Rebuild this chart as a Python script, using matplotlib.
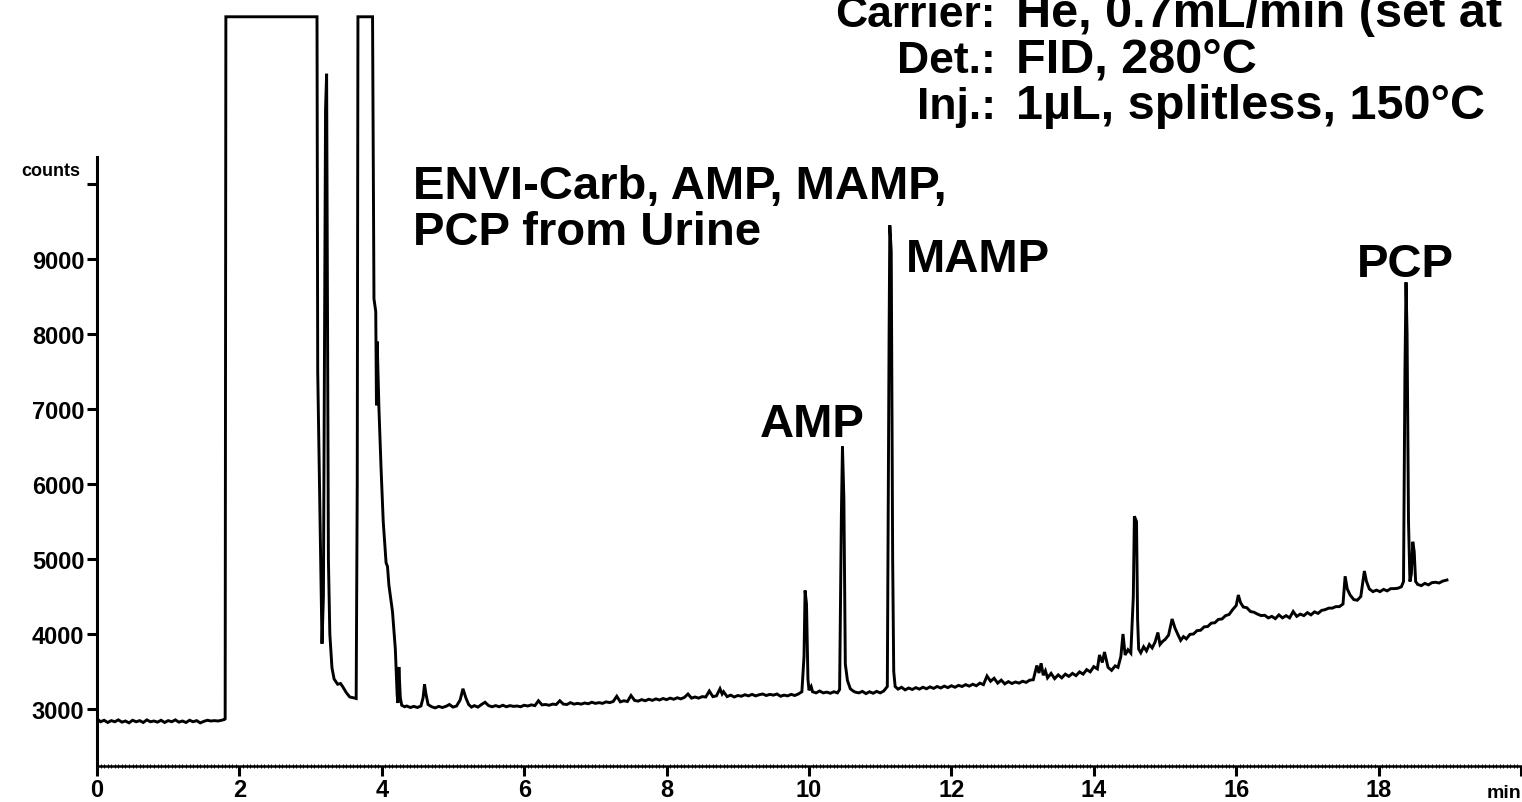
import matplotlib
matplotlib.use("Agg")
import matplotlib.pyplot as plt
from matplotlib.ticker import MultipleLocator
import numpy as np

# ---------------- data ----------------
rt_baseline_start = [0.00, 0.05, 0.10, 0.15, 0.20, 0.25, 0.30, 0.35, 0.40, 0.45,
                     0.50, 0.55, 0.60, 0.65, 0.70, 0.75, 0.80, 0.85, 0.90, 0.95,
                     1.00, 1.05, 1.10, 1.15, 1.20, 1.25, 1.30, 1.35, 1.40, 1.45,
                     1.50, 1.55, 1.60, 1.65, 1.70, 1.75, 1.79]
counts_baseline_start = [2870, 2830, 2850, 2820, 2845, 2830, 2855, 2825, 2840, 2815,
                         2850, 2830, 2845, 2820, 2855, 2830, 2840, 2825, 2850, 2820,
                         2845, 2830, 2855, 2825, 2840, 2820, 2850, 2830, 2845, 2815,
                         2835, 2850, 2840, 2845, 2840, 2850, 2860]

rt_solvent = [1.80, 1.81, 3.09, 3.10, 3.16, 3.18, 3.21, 3.225, 3.235, 3.25,
              3.27, 3.30, 3.33, 3.38, 3.42, 3.45, 3.50, 3.55, 3.60, 3.64,
              3.655, 3.665, 3.87, 3.89, 3.915, 3.925, 3.935, 3.96, 3.99, 4.02,
              4.06, 4.08, 4.10, 4.15, 4.19, 4.215, 4.225, 4.24, 4.26, 4.28]
counts_solvent = [2870, 12230, 12230, 7500, 3870, 4500, 11000, 11470, 9000, 5000,
                  4000, 3550, 3400, 3330, 3340, 3300, 3220, 3160, 3150, 3140,
                  6000, 12230, 12230, 8470, 8300, 7050, 7900, 7000, 6200, 5500,
                  4950, 4900, 4650, 4300, 3800, 3200, 3080, 3560, 3150, 3050]

rt_mid = [4.32, 4.35, 4.40, 4.45, 4.50, 4.55, 4.58, 4.60, 4.62, 4.65, 4.70, 4.75,
          4.80, 4.85, 4.90, 4.95, 5.00, 5.05, 5.10, 5.14, 5.18, 5.22, 5.26, 5.30,
          5.35, 5.40, 5.45, 5.50, 5.55, 5.60, 5.65, 5.70, 5.75, 5.80, 5.85, 5.90,
          5.95, 6.00, 6.05, 6.10, 6.15, 6.20, 6.25, 6.30, 6.35, 6.40, 6.45, 6.50,
          6.55, 6.60, 6.65, 6.70, 6.75, 6.80, 6.85, 6.90, 6.95, 7.00, 7.05, 7.10,
          7.15, 7.20, 7.25, 7.30, 7.35, 7.40, 7.45, 7.50, 7.55, 7.60, 7.65, 7.70,
          7.75, 7.80, 7.85, 7.90, 7.95, 8.00, 8.05, 8.10, 8.15, 8.20, 8.25, 8.30,
          8.35, 8.40, 8.45, 8.50, 8.55, 8.60, 8.65, 8.70, 8.75, 8.78, 8.80, 8.85,
          8.90, 8.95, 9.00, 9.05, 9.10, 9.15, 9.20, 9.25, 9.30, 9.35, 9.40, 9.45,
          9.50, 9.55, 9.60, 9.65, 9.70, 9.75, 9.80, 9.85, 9.90]
counts_mid = [3030, 3040, 3020, 3035, 3020, 3040, 3150, 3330, 3200, 3060, 3030, 3015,
              3035, 3020, 3035, 3060, 3025, 3040, 3120, 3270, 3150, 3060, 3025, 3045,
              3025, 3060, 3090, 3045, 3030, 3045, 3030, 3050, 3030, 3045, 3035, 3040,
              3030, 3050, 3040, 3055, 3045, 3110, 3055, 3060, 3050, 3065, 3060, 3110,
              3065, 3060, 3085, 3065, 3075, 3065, 3080, 3070, 3090, 3075, 3085, 3075,
              3095, 3085, 3100, 3170, 3095, 3110, 3100, 3180, 3115, 3105, 3125, 3110,
              3130, 3115, 3135, 3120, 3140, 3125, 3145, 3130, 3150, 3135, 3155, 3200,
              3145, 3160, 3145, 3165, 3160, 3240, 3165, 3175, 3270, 3200, 3230, 3165,
              3185, 3160, 3180, 3170, 3190, 3175, 3195, 3175, 3190, 3200, 3180, 3195,
              3185, 3200, 3170, 3185, 3175, 3195, 3180, 3200, 3230]

rt_analytes = [9.93, 9.945, 9.965, 9.985, 10.00, 10.03, 10.05, 10.10, 10.15, 10.20,
               10.25, 10.30, 10.35, 10.40, 10.43, 10.455, 10.47, 10.49, 10.51, 10.54,
               10.58, 10.62, 10.65, 10.70, 10.75, 10.80, 10.85, 10.90, 10.95, 11.00,
               11.05, 11.10, 11.125, 11.135, 11.155, 11.175, 11.19, 11.21, 11.25, 11.30,
               11.35, 11.40, 11.45, 11.50, 11.55, 11.60, 11.65, 11.70, 11.75, 11.80,
               11.85, 11.90, 11.95, 12.00, 12.05, 12.10, 12.15, 12.20, 12.25, 12.30,
               12.35, 12.40, 12.45, 12.50, 12.55, 12.60, 12.65, 12.70, 12.75, 12.80,
               12.85, 12.90, 12.95, 13.00, 13.05, 13.10, 13.15, 13.20, 13.23, 13.26,
               13.29, 13.32, 13.35, 13.40, 13.45, 13.50, 13.55, 13.60, 13.65, 13.70,
               13.75, 13.80, 13.85, 13.90, 13.95, 14.00, 14.05, 14.08, 14.12, 14.15,
               14.20, 14.25, 14.30, 14.34, 14.38, 14.41, 14.44, 14.48, 14.52, 14.555,
               14.57, 14.60, 14.615, 14.63, 14.66, 14.70, 14.74, 14.78, 14.82, 14.86,
               14.90, 14.93, 14.97, 15.00, 15.05, 15.10, 15.14, 15.18, 15.22, 15.26,
               15.30, 15.35, 15.40, 15.45, 15.50, 15.55, 15.60, 15.65, 15.70, 15.75,
               15.80, 15.85, 15.90, 15.95, 16.00, 16.03, 16.06, 16.10, 16.15, 16.20]
counts_analytes = [3700, 4580, 4400, 3400, 3250, 3300, 3230, 3215, 3240, 3215,
                   3225, 3210, 3230, 3215, 3260, 5600, 6500, 5800, 3600, 3380,
                   3270, 3240, 3225, 3215, 3235, 3205, 3230, 3210, 3235, 3215,
                   3240, 3300, 8000, 9450, 9100, 5000, 3500, 3300, 3265, 3290,
                   3255, 3280, 3260, 3285, 3265, 3290, 3270, 3295, 3275, 3300,
                   3280, 3305, 3285, 3310, 3290, 3315, 3300, 3325, 3305, 3330,
                   3310, 3345, 3325, 3440, 3370, 3410, 3345, 3385, 3335, 3365,
                   3340, 3360, 3345, 3370, 3355, 3385, 3390, 3580, 3480, 3610,
                   3450, 3510, 3415, 3475, 3405, 3455, 3415, 3465, 3435, 3475,
                   3445, 3495, 3465, 3525, 3495, 3565, 3535, 3720, 3620, 3760,
                   3555, 3515, 3575, 3555, 3700, 4000, 3720, 3790, 3745, 4500,
                   5570, 5500, 4200, 3800, 3750, 3830, 3775, 3860, 3815, 3890,
                   4020, 3860, 3905, 3925, 3985, 4200, 4080, 3995, 3915, 3965,
                   3935, 3995, 4000, 4045, 4050, 4095, 4100, 4145, 4150, 4195,
                   4200, 4245, 4260, 4325, 4380, 4520, 4420, 4360, 4350, 4300]

rt_late = [16.25, 16.30, 16.35, 16.40, 16.45, 16.50, 16.55, 16.60, 16.65, 16.70,
           16.75, 16.80, 16.85, 16.90, 16.95, 17.00, 17.05, 17.10, 17.15, 17.20,
           17.25, 17.30, 17.35, 17.40, 17.45, 17.50, 17.53, 17.56, 17.60, 17.65,
           17.70, 17.75, 17.80, 17.83, 17.87, 17.92, 17.97, 18.02, 18.07, 18.12,
           18.17, 18.22, 18.27, 18.32, 18.35, 18.37, 18.385, 18.40, 18.42, 18.44,
           18.46, 18.48, 18.50, 18.52, 18.55, 18.60, 18.65, 18.70, 18.75, 18.80,
           18.85, 18.90, 18.96]
counts_late = [4290, 4265, 4245, 4250, 4215, 4235, 4205, 4255, 4215, 4245,
               4215, 4300, 4235, 4265, 4245, 4285, 4255, 4295, 4275, 4315,
               4325, 4345, 4345, 4365, 4365, 4400, 4770, 4600, 4520, 4460,
               4450, 4500, 4840, 4700, 4600, 4565, 4585, 4565, 4595, 4575,
               4605, 4605, 4610, 4630, 4700, 7500, 8690, 8000, 5500, 4700,
               4800, 5230, 5100, 4700, 4660, 4645, 4675, 4655, 4685, 4690,
               4680, 4705, 4720]

rt = np.concatenate([rt_baseline_start, rt_solvent, rt_mid, rt_analytes, rt_late])
counts = np.concatenate([counts_baseline_start, counts_solvent, counts_mid,
                         counts_analytes, counts_late])

y_ticks = [3000, 4000, 5000, 6000, 7000, 8000, 9000, 10000]
y_tick_labels = ["3000", "4000", "5000", "6000", "7000", "8000", "9000", ""]
x_ticks = [0, 2, 4, 6, 8, 10, 12, 14, 16, 18, 20]
x_tick_labels = ["0", "2", "4", "6", "8", "10", "12", "14", "16", "18", ""]

peak_labels = [("AMP", 812, 437, "center"), ("MAMP", 906, 272, "left"), ("PCP", 1405, 277, "center")]
title_lines = ["ENVI-Carb, AMP, MAMP,", "PCP from Urine"]
cond_keys = ["Carrier:", "Det.:", "Inj.:"]
cond_vals = ["He, 0.7mL/min (set at", "FID, 280°C", "1µL, splitless, 150°C"]

# ---------------- figure ----------------
W, H = 1522, 803
fig = plt.figure(figsize=(W / 100, H / 100), dpi=100)
FONT = ["Liberation Sans", "DejaVu Sans"]
plt.rcParams["font.family"] = FONT

ax = fig.add_axes([97 / W, 36 / H, (1521 - 97) / W, 767 / H])
ax.plot(rt, counts, color="black", lw=2.1, solid_joinstyle="miter")
ax.set_xlim(0, 20)
ax.set_ylim(2240, 12467)

for s in ("top", "right"):
    ax.spines[s].set_visible(False)
ax.spines["left"].set_bounds(2240, 10360)
ax.spines["left"].set_linewidth(2.2)
ax.spines["bottom"].set_linewidth(1.8)

ax.set_yticks(y_ticks)
ax.set_yticklabels(y_tick_labels, fontsize=17, fontweight="bold")
ax.set_xticks(x_ticks)
ax.set_xticklabels(x_tick_labels, fontsize=17, fontweight="bold")
ax.xaxis.set_minor_locator(MultipleLocator(0.05))
ax.tick_params(axis="y", length=7, width=2.2, pad=2)
ax.tick_params(axis="x", which="major", length=7, width=2.2, pad=2)
ax.tick_params(axis="x", which="minor", length=3, width=0.7, direction="inout")


def px(x, y):
    return x / W, 1 - y / H


fig.text(*px(80, 176), "counts", fontsize=13, fontweight="bold", ha="right", va="baseline")
fig.text(*px(1521, 798), "min", fontsize=14, fontweight="bold", ha="right", va="baseline")

fig.text(*px(413, 199), title_lines[0], fontsize=34, fontweight="bold", ha="left", va="baseline")
fig.text(*px(413, 245), title_lines[1], fontsize=34, fontweight="bold", ha="left", va="baseline")
for txt, x, y, ha in peak_labels:
    fig.text(*px(x, y), txt, fontsize=34, fontweight="bold", ha=ha, va="baseline")

for i, (k, v) in enumerate(zip(cond_keys, cond_vals)):
    yb = 27 + i * 46
    fig.text(*px(996, yb), k, fontsize=32, fontweight="bold", ha="right", va="baseline")
    fig.text(*px(1016, yb), v, fontsize=35, fontweight="bold", ha="left", va="baseline")

fig.savefig("out.png", dpi=100)
